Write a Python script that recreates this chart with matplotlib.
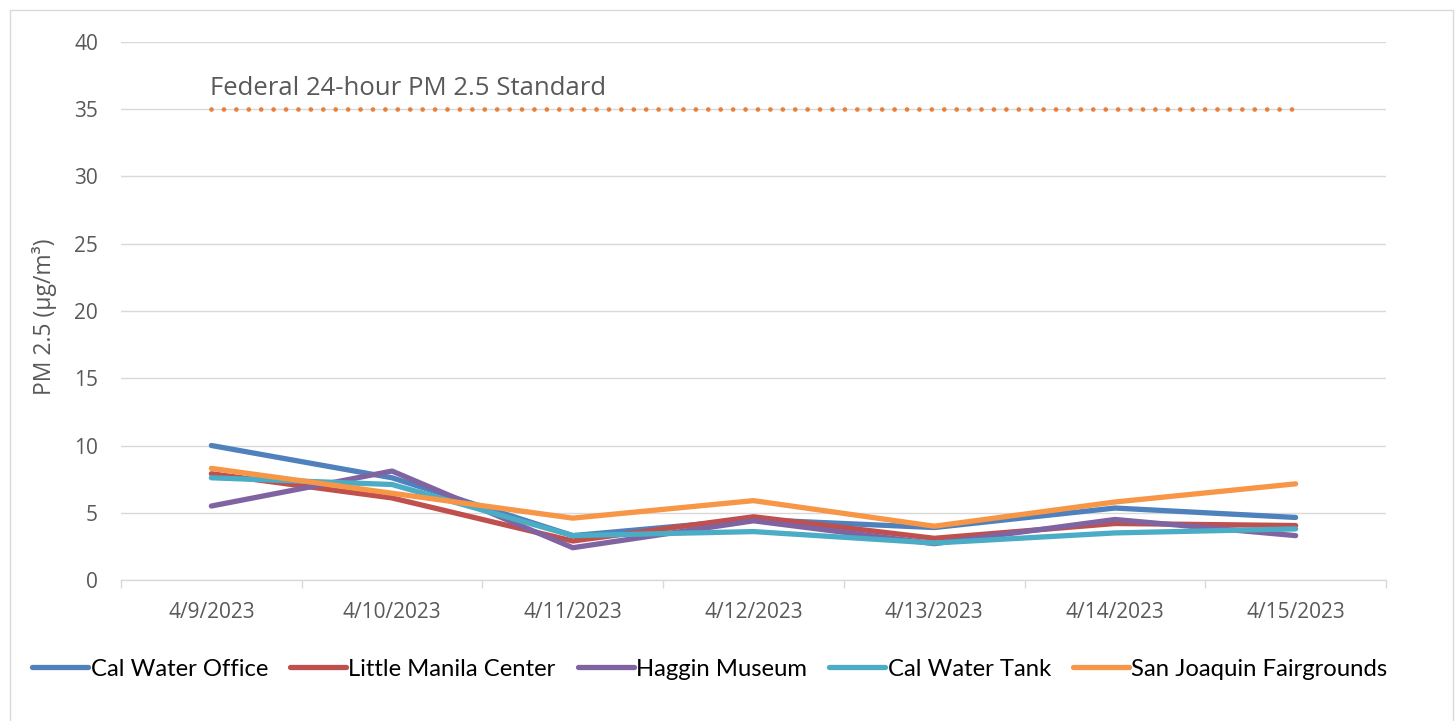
import numpy as np
import matplotlib
matplotlib.use("Agg")
import matplotlib.pyplot as plt
from matplotlib.patches import Rectangle

plt.rcParams['font.family'] = ['Open Sans', 'DejaVu Sans']

# data
dates = ['4/9/2023', '4/10/2023', '4/11/2023', '4/12/2023', '4/13/2023', '4/14/2023', '4/15/2023']
cal_water_office = [10.0, 7.6, 3.3, 4.5, 3.9, 5.35, 4.65]
little_manila = [7.9, 6.1, 2.9, 4.7, 3.1, 4.2, 4.05]
haggin_museum = [5.5, 8.1, 2.4, 4.4, 2.7, 4.5, 3.3]
cal_water_tank = [7.6, 7.1, 3.3, 3.6, 2.75, 3.5, 3.8]
sj_fairgrounds = [8.3, 6.45, 4.6, 5.9, 4.0, 5.8, 7.15]
standard = 35

series = [
    ('Cal Water Office', cal_water_office, '#4F81BD'),
    ('Little Manila Center', little_manila, '#C0504D'),
    ('Haggin Museum', haggin_museum, '#8064A2'),
    ('Cal Water Tank', cal_water_tank, '#4BACC6'),
    ('San Joaquin Fairgrounds', sj_fairgrounds, '#F79646'),
]

grey = '#595959'
grid = '#D9D9D9'

fig = plt.figure(figsize=(14.55, 7.21), dpi=100)
ax = fig.add_axes([121 / 1455, 1 - 580 / 721, (1386 - 121) / 1455, (580 - 42) / 721])

x = np.arange(len(dates))
for name, vals, col in series:
    ax.plot(x, vals, color=col, lw=3.8, label=name, solid_capstyle='round', solid_joinstyle='round')

# federal standard line
ax.plot(x, [standard] * len(x), color='#E8803A', lw=3.4, linestyle=(0, (0.01, 2.62)),
        dash_capstyle='round')
ax.text(x[0] - 0.01, 36.05, 'Federal 24-hour PM 2.5 Standard', color=grey, fontsize=18.5,
        ha='left', va='baseline')

ax.set_xlim(-0.5, len(dates) - 0.5)
ax.set_ylim(0, 40)
ax.set_yticks(range(0, 41, 5))
ax.set_xticks(x)
ax.set_xticklabels(dates)
ax.set_xticks(np.arange(-0.5, len(dates)), minor=True)
ax.tick_params(axis='x', which='major', length=0, pad=16, labelsize=15, labelcolor=grey)
ax.tick_params(axis='x', which='minor', length=6, color=grid, width=1)
ax.tick_params(axis='y', length=0, pad=16.5, labelsize=15, labelcolor=grey)
ax.yaxis.grid(True, color=grid, lw=1)
ax.set_axisbelow(True)
for s in ['top', 'right', 'left']:
    ax.spines[s].set_visible(False)
ax.spines['bottom'].set_color(grid)
ax.spines['bottom'].set_linewidth(1)
ylab = ax.set_ylabel('PM 2.5 (μg/m³)', color=grey, fontsize=16.5)
ylab.set_va('center')
ax.yaxis.set_label_coords((45 - 121) / 1265, 0.49)

fig.legend(loc='center left', bbox_to_anchor=(32 / 1455, 1 - 669 / 721), ncol=5, frameon=False,
           prop={'family': 'Lato', 'size': 17.2}, borderpad=0, borderaxespad=0,
           handlelength=2.35, handletextpad=0.1, columnspacing=0.92)

fig.patches.append(Rectangle((10 / 1455, -0.02), 1443 / 1455, 711 / 721 + 0.02, transform=fig.transFigure,
                             fill=False, edgecolor=grid, lw=1))

fig.savefig('out.png', dpi=100)
